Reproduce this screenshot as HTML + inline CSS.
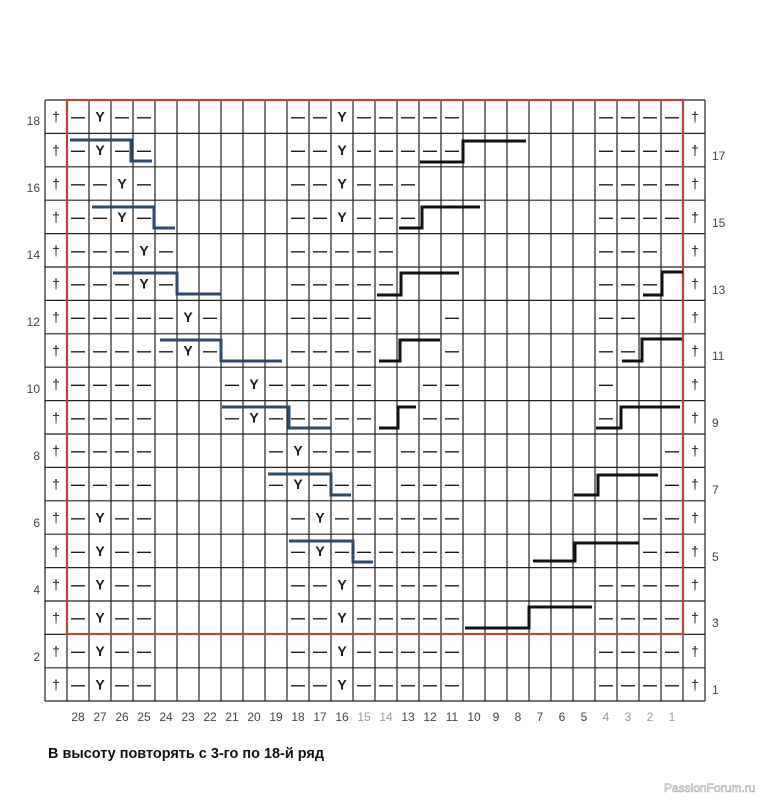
<!DOCTYPE html>
<html><head><meta charset="utf-8"><style>
html,body{margin:0;padding:0;background:#fff;width:767px;height:800px;overflow:hidden}
svg{display:block}
.s{font-family:"Liberation Sans","DejaVu Sans",sans-serif;font-weight:bold;font-size:14px;fill:#1a1a1a;text-anchor:middle}
.l{font-family:"Liberation Sans",sans-serif;font-size:12px;fill:#444}
</style></head><body>
<svg width="767" height="800" viewBox="0 0 767 800" xmlns="http://www.w3.org/2000/svg">
<g stroke="#222" stroke-width="1.2" fill="none">
<path d="M45 100V701M67 100V701M89 100V701M111 100V701M133 100V701M155 100V701M177 100V701M199 100V701M221 100V701M243 100V701M265 100V701M287 100V701M309 100V701M331 100V701M353 100V701M375 100V701M397 100V701M419 100V701M441 100V701M463 100V701M485 100V701M507 100V701M529 100V701M551 100V701M573 100V701M595 100V701M617 100V701M639 100V701M661 100V701M683 100V701M705 100V701"/>
<path d="M45 100H705M45 133.4H705M45 166.8H705M45 200.2H705M45 233.6H705M45 267H705M45 300.4H705M45 333.8H705M45 367.2H705M45 400.6H705M45 434H705M45 467.4H705M45 500.8H705M45 534.2H705M45 567.6H705M45 601H705M45 634.4H705M45 667.8H705M45 701H705"/>
</g>
<rect x="67" y="100" width="616" height="534" fill="none" stroke="#b5473a" stroke-width="2.2"/>

<g class="s">
<text x="78 100 122 144 298 320 342 364 386 408 430 452 606 628 650 672" y="121.7">—Y————Y—————————</text>
<text x="78 100 122 144 298 320 342 364 386 408 430 452 606 628 650 672" y="155.1">—Y————Y—————————</text>
<text x="78 100 122 144 298 320 342 364 386 408 606 628 650 672" y="188.5">——Y———Y———————</text>
<text x="78 100 122 144 298 320 342 364 386 408 606 628 650 672" y="221.9">——Y———Y———————</text>
<text x="78 100 122 144 166 298 320 342 364 386 606 628 650" y="255.3">———Y—————————</text>
<text x="78 100 122 144 166 298 320 342 364 386 606 628 650" y="288.7">———Y—————————</text>
<text x="78 100 122 144 166 188 210 298 320 342 364 452 606 628" y="322.1">—————Y————————</text>
<text x="78 100 122 144 166 188 210 298 320 342 364 452 606 628" y="355.5">—————Y————————</text>
<text x="78 100 122 144 232 254 276 298 320 342 364 430 452 606" y="388.9">—————Y————————</text>
<text x="78 100 122 144 232 254 276 298 320 342 364 430 452 606" y="422.3">—————Y————————</text>
<text x="78 100 122 144 276 298 320 342 364 408 430 452 672" y="455.7">—————Y———————</text>
<text x="78 100 122 144 276 298 320 342 364 408 430 452 672" y="489.1">—————Y———————</text>
<text x="78 100 122 144 298 320 342 364 386 408 430 452 650 672" y="522.5">—Y———Y————————</text>
<text x="78 100 122 144 298 320 342 364 386 408 430 452 650 672" y="555.9">—Y———Y————————</text>
<text x="78 100 122 144 298 320 342 364 386 408 430 452 606 628 650 672" y="589.3">—Y————Y—————————</text>
<text x="78 100 122 144 298 320 342 364 386 408 430 452 606 628 650 672" y="622.7">—Y————Y—————————</text>
<text x="78 100 122 144 298 320 342 364 386 408 430 452 606 628 650 672" y="656.1">—Y————Y—————————</text>
<text x="78 100 122 144 298 320 342 364 386 408 430 452 606 628 650 672" y="689.5">—Y————Y—————————</text>
</g>
<g class="s" style="font-weight:normal;font-size:14px">
<text x="56 695" y="121.7">††</text><text x="56 695" y="155.1">††</text><text x="56 695" y="188.5">††</text><text x="56 695" y="221.9">††</text><text x="56 695" y="255.3">††</text><text x="56 695" y="288.7">††</text><text x="56 695" y="322.1">††</text><text x="56 695" y="355.5">††</text><text x="56 695" y="388.9">††</text><text x="56 695" y="422.3">††</text><text x="56 695" y="455.7">††</text><text x="56 695" y="489.1">††</text><text x="56 695" y="522.5">††</text><text x="56 695" y="555.9">††</text><text x="56 695" y="589.3">††</text><text x="56 695" y="622.7">††</text><text x="56 695" y="656.1">††</text><text x="56 695" y="689.5">††</text>
</g>

<g stroke="#2f4a68" stroke-width="3" fill="none">
<path d="M70 140H131V161H152"/>
<path d="M92 207H154V228H175"/>
<path d="M113 273H177V294H221"/>
<path d="M160 340H221V361H282"/>
<path d="M222 407H289V428H331"/>
<path d="M268 474H331V495H351"/>
<path d="M289 541H353V562H373"/>
</g>
<g stroke="#111" stroke-width="3" fill="none">
<path d="M420 162H463V141H526"/>
<path d="M399 228H422V207H480"/>
<path d="M377 295H401V273H459"/>
<path d="M379 361H400V340H440"/>
<path d="M379 428H398V407H416"/>
<path d="M643 295H662V272H683"/>
<path d="M622 361H642V339H682"/>
<path d="M596 428H621V407H680"/>
<path d="M574 495H598V475H658"/>
<path d="M533 561H575V543H639"/>
<path d="M465 628H529V607H592"/>
</g>

<g class="l" text-anchor="end">
<text x="40" y="125">18</text><text x="40" y="192">16</text><text x="40" y="259">14</text><text x="40" y="326">12</text><text x="40" y="393">10</text><text x="40" y="460">8</text><text x="40" y="527">6</text><text x="40" y="594">4</text><text x="40" y="661">2</text>
</g>
<g class="l">
<text x="712" y="160">17</text><text x="712" y="227">15</text><text x="712" y="294">13</text><text x="712" y="360">11</text><text x="712" y="427">9</text><text x="712" y="494">7</text><text x="712" y="561">5</text><text x="712" y="627">3</text><text x="712" y="694">1</text>
</g>
<g class="l" text-anchor="middle">
<text x="78" y="721">28</text><text x="100" y="721">27</text><text x="122" y="721">26</text><text x="144" y="721">25</text><text x="166" y="721">24</text><text x="188" y="721">23</text><text x="210" y="721">22</text><text x="232" y="721">21</text><text x="254" y="721">20</text><text x="276" y="721">19</text><text x="298" y="721">18</text><text x="320" y="721">17</text><text x="342" y="721">16</text><text x="364" y="721" fill="#999">15</text><text x="386" y="721" fill="#999">14</text><text x="408" y="721">13</text><text x="430" y="721">12</text><text x="452" y="721">11</text><text x="474" y="721">10</text><text x="496" y="721">9</text><text x="518" y="721">8</text><text x="540" y="721">7</text><text x="562" y="721">6</text><text x="584" y="721">5</text><text x="606" y="721" fill="#999">4</text><text x="628" y="721" fill="#999">3</text><text x="650" y="721" fill="#999">2</text><text x="672" y="721" fill="#999">1</text>
</g>
<text x="48" y="758" textLength="276" lengthAdjust="spacingAndGlyphs" style="font-family:'Liberation Sans','DejaVu Sans',sans-serif;font-weight:bold;font-size:15px;fill:#111">В высоту повторять с 3-го по 18-й ряд</text>
<text x="664" y="792" style="font-family:'Liberation Sans',sans-serif;font-size:12px;fill:#fff;stroke:#aaa;stroke-width:0.6">PassionForum.ru</text>
</svg>
</body></html>
